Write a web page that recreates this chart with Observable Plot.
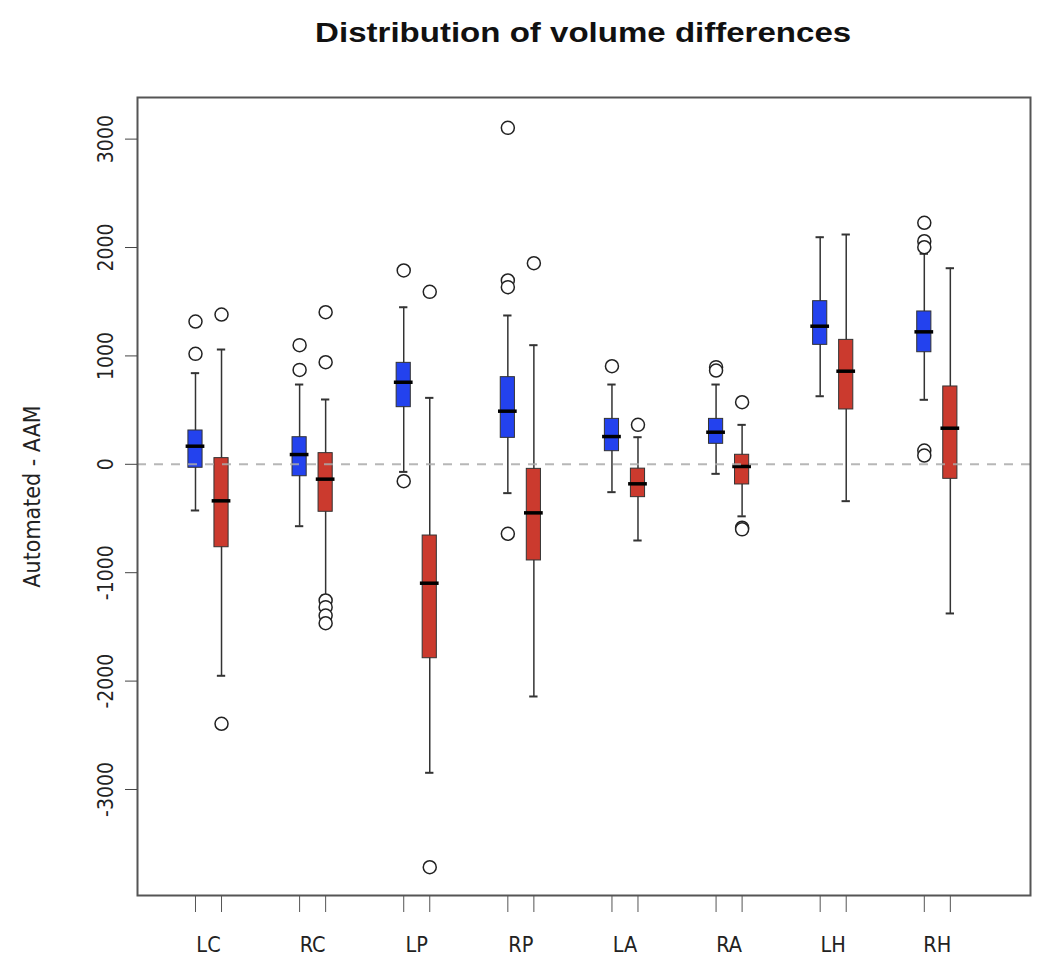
<!DOCTYPE html>
<html><head><meta charset="utf-8">
<script src="https://cdn.jsdelivr.net/npm/d3@7"></script>
<script src="https://cdn.jsdelivr.net/npm/@observablehq/plot@0.6"></script>
<style>
body{margin:0;background:#fff;font-family:"Liberation Sans",Arial,sans-serif;}
#title{height:60px;box-sizing:border-box;padding:17px 20px 0 137px;text-align:center;line-height:32px;}
#title span{display:inline-block;font-size:28px;font-weight:bold;color:#111;transform:scaleX(1.18);}
</style></head><body>
<div id="title"><span>Distribution of volume differences</span></div>
<div id="chart"></div>
<script>
const regions = ["LC","RC","LP","RP","LA","RA","LH","RH"];
const yTicks = [-3000,-2000,-1000,0,1000,2000,3000];

// Series 1 (blue)
const blueLow    = [-426, -571,  -70, -266, -257,  -88,  628,  595];
const blueQ1     = [ -32, -110,  527,  244,  121,  189, 1102, 1034];
const blueMedian = [ 167,   90,  757,  490,  256,  296, 1274, 1222];
const blueQ3     = [ 312,  250,  936,  804,  419,  419, 1505, 1410];
const blueHigh   = [ 841,  736, 1449, 1373,  736,  736, 2095, 1942];
const blueOutliers = [[1317,1019],[1099,871],[1788,-156],[3104,1696,1634,-641],[905],[896,865],[],[2228,2058,2003,127,81]];

// Series 2 (red)
const redLow    = [-1951, -1210, -2846, -2142, -703, -480, -340, -1376];
const redQ1     = [ -765,  -438, -1789,  -887, -303, -186,  506,  -134];
const redMedian = [ -337,  -137, -1097,  -448, -180,  -20,  859,   333];
const redQ3     = [   57,   103,  -657,   -42,  -40,   88, 1148,   718];
const redHigh   = [ 1059,   598,   613,  1099,  250,  364, 2120,  1809];
const redOutliers = [[1382,-2394],[1403,942,-1256,-1318,-1395,-1466],[1591,-3717],[1855],[364],[573,-585,-600],[],[]];

const series = [
  {fill:"#2342ee", low:blueLow, q1:blueQ1, med:blueMedian, q3:blueQ3, high:blueHigh, out:blueOutliers},
  {fill:"#cb3a2e", low:redLow, q1:redQ1, med:redMedian, q3:redQ3, high:redHigh, out:redOutliers}
];

const rows = [], outRows = [];
series.forEach((s, g) => {
  regions.forEach((r, i) => {
    const pos = i + 1 + 0.25 * g;
    rows.push({region:r, pos, fill:s.fill, low:s.low[i], q1:s.q1[i], med:s.med[i], q3:s.q3[i], high:s.high[i]});
    s.out[i].forEach(v => outRows.push({region:r, pos, v}));
  });
});
const tickPositions = rows.map(d => d.pos).sort((a,b)=>a-b);
const centers = regions.map((r,i) => i + 1.125);

const narrow = '"DejaVu Sans Condensed", "Liberation Sans Narrow", "Liberation Sans", sans-serif';
const hw = 0.068, cap = 0.04, mw = 0.09;
const chart = Plot.plot({
  width: 1050, height: 920,
  marginTop: 37, marginBottom: 85, marginLeft: 137, marginRight: 20,
  style: {fontFamily: narrow, background: "#fff", color: "#222"},
  x: {type: "linear", domain: [0.443, 9.02]},
  y: {domain: [-3978, 3384]},
  marks: [
    Plot.ruleX(rows, {x: "pos", y1: "low", y2: "high", stroke: "#333", strokeWidth: 1.5}),
    Plot.ruleY(rows, {y: "low", x1: d => d.pos - cap, x2: d => d.pos + cap, stroke: "#333", strokeWidth: 2}),
    Plot.ruleY(rows, {y: "high", x1: d => d.pos - cap, x2: d => d.pos + cap, stroke: "#333", strokeWidth: 2}),
    Plot.rect(rows, {x1: d => d.pos - hw, x2: d => d.pos + hw, y1: "q1", y2: "q3", fill: "fill", stroke: "#333", strokeWidth: 1}),
    Plot.ruleY(rows, {y: "med", x1: d => d.pos - mw, x2: d => d.pos + mw, stroke: "#000", strokeWidth: 3.5}),
    Plot.ruleY([0], {stroke: "#aaa", strokeOpacity: 0.85, strokeDasharray: "9,8", strokeWidth: 2}),
    Plot.dot(outRows, {x: "pos", y: "v", r: 6.5, stroke: "#222", fill: "#fff", strokeWidth: 1.5}),
    Plot.frame({stroke: "#555", strokeWidth: 2}),
    Plot.axisY({ticks: yTicks, tickFormat: d => String(d), tickRotate: -90, tickSize: 12, tickPadding: 13, fontSize: 21, label: null, stroke: "#444"}),
    Plot.axisX({ticks: tickPositions, tickSize: 17, tickFormat: () => "", label: null, stroke: "#555"}),
    Plot.axisX({ticks: centers, tickSize: 0, tickPadding: 41, fontSize: 21.5, label: null, tickFormat: d => regions[Math.round(d - 1.125)]}),
    Plot.text(["Automated - AAM"], {frameAnchor: "left", textAnchor: "middle", dx: -105, rotate: -90, fontSize: 23, fill: "#222"})
  ]
});
document.getElementById("chart").appendChild(chart);
</script>
</body></html>
